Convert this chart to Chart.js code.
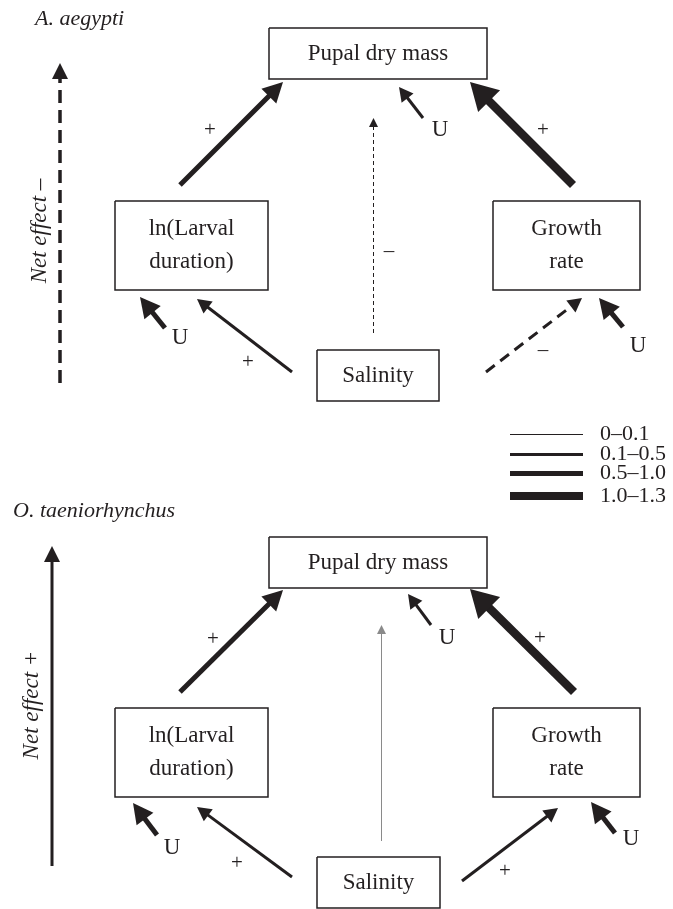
<!DOCTYPE html>
<html>
<head>
<meta charset="utf-8">
<script src="https://cdn.jsdelivr.net/npm/chart.js@4.4.0/dist/chart.umd.min.js"></script>
<style>
body { margin: 0; background: #fff; }
canvas { display: block; }
</style>
</head>
<body>
<canvas id="diagrama" width="673" height="909"></canvas>
<script>
// Paneles (especies) y efecto neto de la salinidad
const especies = ['A. aegypti', 'O. taeniorhynchus'];
const efectoNeto = ['Net effect –', 'Net effect +'];
const efectoNetoSigno = [-1, 1];

// Nodos del diagrama
const nodos = ['Pupal dry mass', 'ln(Larval\nduration)', 'Growth\nrate', 'Salinity'];

// Clases de coeficiente de ruta (grosor de flecha)
const clases = ['0–0.1', '0.1–0.5', '0.5–1.0', '1.0–1.3'];

// Rutas: origen -> destino (U = varianza no explicada)
const rutaOrigen = ['ln(Larval duration)', 'Growth rate', 'U', 'Salinity', 'U', 'Salinity', 'Salinity', 'U'];
const rutaDestino = ['Pupal dry mass', 'Pupal dry mass', 'Pupal dry mass', 'Pupal dry mass',
    'ln(Larval duration)', 'ln(Larval duration)', 'Growth rate', 'Growth rate'];

// Clase de cada ruta y su signo por especie ('' = no significativa)
const claseAegypti = [2, 3, 1, 0, 2, 1, 1, 2];
const signoAegypti = ['+', '+', 'U', '–', 'U', '+', '–', 'U'];
const claseTaenio = [2, 3, 1, 0, 2, 1, 1, 2];
const signoTaenio = ['+', '+', 'U', '', 'U', '+', '+', 'U'];

// ---- Disposición (coordenadas del lienzo, escala 1:1) ----
const cajas = [
    [[269, 28, 487, 79], [115, 201, 268, 290], [493, 201, 640, 290], [317, 350, 439, 401]],
    [[269, 537, 487, 588], [115, 708, 268, 797], [493, 708, 640, 797], [317, 857, 440, 908]]
];
// [x cola, y cola, x punta, y punta, x etiqueta, y etiqueta]
const flechas = [
    [[180, 185, 283, 82, 210, 130], [573, 185, 470, 82, 543, 130], [423, 118, 399, 87, 440, 130],
     [373.5, 333, 373.5, 118, 389, 251], [165, 328, 140, 297, 180, 338], [292, 372, 197, 299, 248, 362],
     [486, 372, 582, 298, 543, 350], [623, 327, 599, 298, 638, 346]],
    [[180, 692, 283, 590, 213, 639], [574, 692, 470, 589, 540, 638], [431, 625, 408, 594, 447, 638],
     [381.5, 841, 381.5, 625, 0, 0], [157, 835, 133, 803, 172, 848], [292, 877, 197, 807, 237, 863],
     [462, 881, 558, 808, 505, 871], [615, 833, 591, 802, 631, 839]]
];
const flechaNeta = [[60, 383, 60, 63], [52, 866, 52, 546]];
const posTitulo = [[35, 25], [13, 517]];
const posEfecto = [[40, 231], [32, 705]];
const leyendaY = [434.5, 454.5, 473.5, 496];

// Estilos por clase
const grosor = [1, 3, 5, 8.5];
const largoPunta = [9, 14, 20, 27];
const anchoPunta = [9, 15, 21, 31];
const negro = '#231f20';
const gris = '#8a8a8a';
const fuente = '"Liberation Serif", "Times New Roman", serif';

const datasets = [];
const textos = [];

function linea(puntos, color, ancho, guion, punta) {
    datasets.push({
        data: puntos.map(p => ({ x: p[0], y: p[1] })),
        borderColor: color,
        borderWidth: ancho,
        borderDash: guion || [],
        borderCapStyle: 'butt',
        borderJoinStyle: 'miter',
        showLine: true,
        pointRadius: 0,
        tension: 0,
        clip: false,
        fill: false,
        punta: punta || null
    });
}

[claseAegypti, claseTaenio].forEach((claseP, p) => {
    const signoP = p === 0 ? signoAegypti : signoTaenio;

    // Cajas de los nodos
    cajas[p].forEach((c, n) => {
        linea([[c[0], c[1]], [c[2], c[1]], [c[2], c[3]], [c[0], c[3]], [c[0], c[1]]], negro, 1.5);
        const lineas = nodos[n].split('\n');
        const cy = (c[1] + c[3]) / 2;
        lineas.forEach((t, k) => {
            textos.push({ t, x: (c[0] + c[2]) / 2, y: cy + (k - (lineas.length - 1) / 2) * 33, size: 23 });
        });
    });

    // Rutas
    rutaOrigen.forEach((o, i) => {
        const f = flechas[p][i];
        const cls = claseP[i];
        const s = signoP[i];
        const dx = f[2] - f[0], dy = f[3] - f[1];
        const d = Math.hypot(dx, dy);
        const L = largoPunta[cls];
        const fin = [f[2] - dx / d * (L - 2), f[3] - dy / d * (L - 2)];
        const color = s === '' ? gris : negro;
        let guion = [];
        if (s === '–') guion = cls === 0 ? [4, 3] : [11, 7];
        linea([[f[0], f[1]], fin], color, grosor[cls], guion,
            { x: f[2], y: f[3], largo: L, ancho: anchoPunta[cls], color });
        if (s !== '') textos.push({ t: s, x: f[4], y: f[5], size: s === 'U' ? 23 : 21 });
    });

    // Flecha de efecto neto
    const fn = flechaNeta[p];
    const L = 16;
    linea([[fn[0], fn[1]], [fn[2], fn[3] + L - 1]], negro, efectoNetoSigno[p] < 0 ? 3.5 : 3,
        efectoNetoSigno[p] < 0 ? [13, 7] : [], { x: fn[2], y: fn[3], largo: L, ancho: 16, color: negro });

    textos.push({ t: especies[p], x: posTitulo[p][0], y: posTitulo[p][1], size: 22, italic: true, align: 'left', base: 'alphabetic' });
    textos.push({ t: efectoNeto[p], x: posEfecto[p][0], y: posEfecto[p][1], size: 23, italic: true, rot: true });
});

// Leyenda de grosores
clases.forEach((c, k) => {
    linea([[510, leyendaY[k]], [583, leyendaY[k]]], negro, grosor[k] === 8.5 ? 8 : grosor[k]);
    textos.push({ t: c, x: 600, y: leyendaY[k], size: 22, align: 'left' });
});

// Plugin: puntas de flecha y textos
const dibujoExtra = {
    id: 'dibujoExtra',
    afterDatasetsDraw(chart) {
        const ctx = chart.ctx;
        const sx = chart.scales.x, sy = chart.scales.y;
        ctx.save();
        chart.data.datasets.forEach(ds => {
            if (!ds.punta) return;
            const a = ds.punta;
            const p0 = ds.data[0];
            const tx = sx.getPixelForValue(a.x), ty = sy.getPixelForValue(a.y);
            const ox = sx.getPixelForValue(p0.x), oy = sy.getPixelForValue(p0.y);
            const d = Math.hypot(tx - ox, ty - oy);
            const ux = (tx - ox) / d, uy = (ty - oy) / d;
            const bx = tx - ux * a.largo, by = ty - uy * a.largo;
            ctx.beginPath();
            ctx.moveTo(tx, ty);
            ctx.lineTo(bx - uy * a.ancho / 2, by + ux * a.ancho / 2);
            ctx.lineTo(bx + uy * a.ancho / 2, by - ux * a.ancho / 2);
            ctx.closePath();
            ctx.fillStyle = a.color;
            ctx.fill();
        });
        textos.forEach(o => {
            const x = sx.getPixelForValue(o.x), y = sy.getPixelForValue(o.y);
            ctx.save();
            ctx.fillStyle = negro;
            ctx.font = (o.italic ? 'italic ' : '') + o.size + 'px ' + fuente;
            ctx.textAlign = o.align || 'center';
            ctx.textBaseline = o.base || 'middle';
            ctx.translate(x, y);
            if (o.rot) ctx.rotate(-Math.PI / 2);
            ctx.fillText(o.t, 0, 0);
            ctx.restore();
        });
        ctx.restore();
    }
};

new Chart(document.getElementById('diagrama'), {
    type: 'scatter',
    data: { datasets },
    options: {
        responsive: false,
        animation: false,
        layout: { padding: 0 },
        plugins: { legend: { display: false }, tooltip: { enabled: false } },
        scales: {
            x: { type: 'linear', min: 0, max: 673, display: false },
            y: { type: 'linear', min: 0, max: 909, reverse: true, display: false }
        }
    },
    plugins: [dibujoExtra]
});
</script>
</body>
</html>
